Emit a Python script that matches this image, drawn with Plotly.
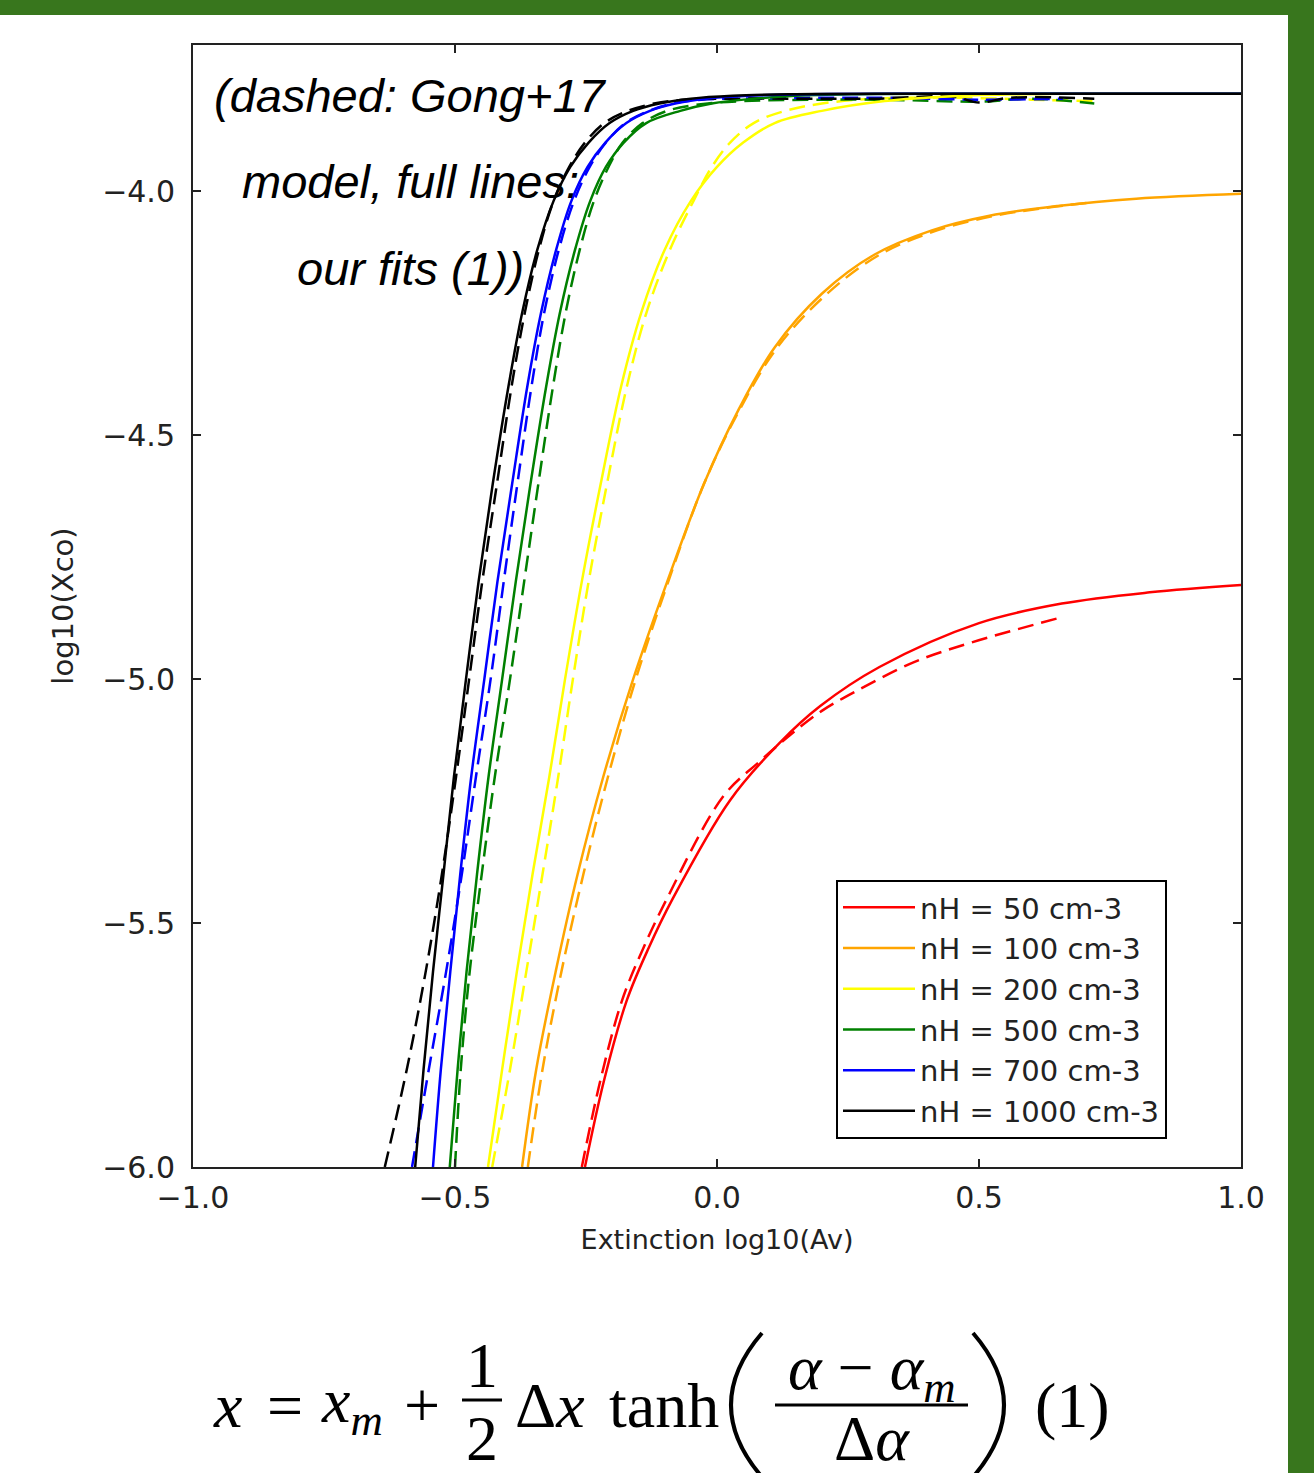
import plotly.graph_objects as go

# ---------------- data ----------------
densities = ["nH = 50 cm-3", "nH = 100 cm-3", "nH = 200 cm-3",
             "nH = 500 cm-3", "nH = 700 cm-3", "nH = 1000 cm-3"]
colors = ["#ff0000", "#ffa500", "#ffff00", "#008000", "#0000ff", "#000000"]

# full lines: our fits (1)
fit_50_x = [-0.252, -0.215, -0.172, -0.13, -0.086, 0.025, 0.12, 0.197, 0.31, 0.50, 0.658, 0.826, 1.00]
fit_50_y = [-6.00, -5.82, -5.658, -5.55, -5.453, -5.248, -5.13, -5.055, -4.975, -4.885, -4.845, -4.822, -4.807]

fit_100_x = [-0.372, -0.345, -0.308, -0.266, -0.217, -0.160, -0.095, -0.025, 0.040, 0.110, 0.200, 0.300, 0.410, 0.520, 0.650, 0.800, 1.000]
fit_100_y = [-6.00, -5.80, -5.60, -5.40, -5.20, -5.00, -4.80, -4.60, -4.45, -4.32, -4.21, -4.13, -4.08, -4.05, -4.03, -4.015, -4.005]

fit_200_x = [-0.437, -0.410, -0.382, -0.352, -0.320, -0.290, -0.258, -0.222, -0.183, -0.145, -0.100, -0.050, 0.00, 0.05, 0.11, 0.20, 0.32, 0.45, 0.65, 1.00]
fit_200_y = [-6.00, -5.80, -5.60, -5.40, -5.20, -5.00, -4.80, -4.60, -4.40, -4.25, -4.12, -4.02, -3.95, -3.90, -3.86, -3.835, -3.815, -3.805, -3.80, -3.80]

fit_500_x = [-0.510, -0.495, -0.478, -0.458, -0.436, -0.410, -0.384, -0.356, -0.326, -0.300, -0.271, -0.242, -0.212, -0.178, -0.135, -0.07, -0.01, 0.07, 0.15, 0.27, 0.42, 1.00]
fit_500_y = [-6.00, -5.80, -5.60, -5.40, -5.20, -5.00, -4.80, -4.60, -4.40, -4.25, -4.12, -4.02, -3.95, -3.90, -3.86, -3.835, -3.82, -3.81, -3.804, -3.801, -3.80, -3.80]

fit_700_x = [-0.542, -0.527, -0.509, -0.490, -0.469, -0.444, -0.419, -0.391, -0.362, -0.336, -0.307, -0.278, -0.247, -0.213, -0.173, -0.128, -0.08, -0.02, 0.06, 0.18, 0.35, 1.00]
fit_700_y = [-6.00, -5.80, -5.60, -5.40, -5.20, -5.00, -4.80, -4.60, -4.40, -4.25, -4.12, -4.02, -3.95, -3.90, -3.86, -3.835, -3.82, -3.81, -3.804, -3.801, -3.80, -3.80]

fit_1000_x = [-0.576, -0.560, -0.542, -0.522, -0.502, -0.479, -0.455, -0.428, -0.398, -0.372, -0.343, -0.312, -0.280, -0.245, -0.205, -0.160, -0.110, -0.05, 0.03, 0.15, 0.30, 1.00]
fit_1000_y = [-6.00, -5.80, -5.60, -5.40, -5.20, -5.00, -4.80, -4.60, -4.40, -4.25, -4.12, -4.02, -3.95, -3.90, -3.86, -3.835, -3.82, -3.81, -3.804, -3.801, -3.80, -3.80]

# dashed: Gong+17 model
gong_50_x = [-0.258, -0.222, -0.181, -0.14, -0.097, 0.012, 0.08, 0.139, 0.20, 0.265, 0.376, 0.485, 0.658]
gong_50_y = [-6.00, -5.82, -5.658, -5.55, -5.453, -5.24, -5.17, -5.115, -5.065, -5.025, -4.965, -4.925, -4.873]

gong_100_x = [-0.361, -0.333, -0.297, -0.255, -0.208, -0.155, -0.093, -0.025, 0.042, 0.115, 0.21, 0.31, 0.42, 0.53, 0.62, 0.72]
gong_100_y = [-6.00, -5.80, -5.60, -5.40, -5.20, -5.00, -4.80, -4.60, -4.45, -4.32, -4.21, -4.13, -4.08, -4.05, -4.035, -4.022]

gong_200_x = [-0.429, -0.395, -0.364, -0.333, -0.303, -0.275, -0.245, -0.210, -0.172, -0.135, -0.090, -0.045, -0.01, 0.025, 0.07, 0.13, 0.20, 0.30, 0.45, 0.60, 0.72]
gong_200_y = [-6.00, -5.80, -5.60, -5.40, -5.20, -5.00, -4.80, -4.60, -4.40, -4.25, -4.12, -4.02, -3.95, -3.90, -3.86, -3.835, -3.82, -3.81, -3.808, -3.812, -3.815]

gong_500_x = [-0.500, -0.489, -0.472, -0.449, -0.424, -0.395, -0.368, -0.341, -0.313, -0.289, -0.262, -0.235, -0.207, -0.18, -0.142, -0.095, -0.035, 0.05, 0.30, 0.50, 0.60, 0.72]
gong_500_y = [-6.00, -5.80, -5.60, -5.40, -5.20, -5.00, -4.80, -4.60, -4.40, -4.25, -4.12, -4.02, -3.95, -3.90, -3.86, -3.835, -3.822, -3.815, -3.812, -3.816, -3.81, -3.82]

gong_700_x = [-0.582, -0.550, -0.517, -0.487, -0.460, -0.432, -0.407, -0.381, -0.354, -0.330, -0.302, -0.273, -0.243, -0.212, -0.175, -0.13, -0.085, -0.03, 0.05, 0.30, 0.50, 0.66]
gong_700_y = [-6.00, -5.80, -5.60, -5.40, -5.20, -5.00, -4.80, -4.60, -4.40, -4.25, -4.12, -4.02, -3.95, -3.90, -3.86, -3.835, -3.82, -3.812, -3.81, -3.808, -3.812, -3.81]

gong_1000_x = [-0.634, -0.592, -0.556, -0.525, -0.498, -0.473, -0.448, -0.420, -0.392, -0.367, -0.340, -0.312, -0.282, -0.252, -0.215, -0.17, -0.12, -0.06, 0.05, 0.30, 0.45, 0.50, 0.56, 0.72]
gong_1000_y = [-6.00, -5.80, -5.60, -5.40, -5.20, -5.00, -4.80, -4.60, -4.40, -4.25, -4.12, -4.02, -3.95, -3.90, -3.86, -3.835, -3.82, -3.812, -3.81, -3.81, -3.806, -3.818, -3.808, -3.81]

fits = [(fit_50_x, fit_50_y), (fit_100_x, fit_100_y), (fit_200_x, fit_200_y),
        (fit_500_x, fit_500_y), (fit_700_x, fit_700_y), (fit_1000_x, fit_1000_y)]
gongs = [(gong_50_x, gong_50_y), (gong_100_x, gong_100_y), (gong_200_x, gong_200_y),
         (gong_500_x, gong_500_y), (gong_700_x, gong_700_y), (gong_1000_x, gong_1000_y)]

x_ticks = [-1.0, -0.5, 0.0, 0.5, 1.0]
y_ticks = [-6.0, -5.5, -5.0, -4.5, -4.0]
x_range = [-1.0, 1.0]
y_range = [-6.0, -3.70]

# ---------------- figure ----------------
W, H = 1314, 1473
L, R, T, B = 193, 1241, 45, 1167  # plot area in pixels


def px(xp):
    return (xp - L) / (R - L)


def py(yp):
    return (B - yp) / (B - T)


fig = go.Figure()

for (gx, gy), c in zip(gongs, colors):
    fig.add_trace(go.Scatter(x=gx, y=gy, mode="lines", showlegend=False,
                             line=dict(color=c, width=2.5, dash="16px,8px",
                                       shape="spline", smoothing=1.0)))

for (fx, fy), c, name in zip(fits, colors, densities):
    fig.add_trace(go.Scatter(x=fx, y=fy, mode="lines", name=name,
                             line=dict(color=c, width=2.5, shape="spline", smoothing=1.0)))

axis_common = dict(showline=True, linecolor="#222", linewidth=2, mirror="ticks",
                   ticks="inside", ticklen=8, tickwidth=2, tickcolor="#222",
                   showgrid=False, zeroline=False, tickformat=".1f",
                   tickfont=dict(family="DejaVu Sans", size=30, color="#222"))

fig.update_xaxes(range=x_range, tickvals=x_ticks, ticklabelstandoff=3,
                 title=dict(text="Extinction log10(Av)", standoff=16,
                            font=dict(family="DejaVu Sans", size=27, color="#222")),
                 **axis_common)
fig.update_yaxes(range=y_range, tickvals=y_ticks, ticklabelstandoff=10,
                 title=dict(text="log10(Xco)", standoff=20,
                            font=dict(family="DejaVu Sans", size=29, color="#222")),
                 **axis_common)

annotations = []
# overlay note
note_lines = ["(dashed: Gong+17", "model, full lines:", "our fits (1))"]
note_y = [95, 182, 268]
for t, yy in zip(note_lines, note_y):
    annotations.append(dict(text="<i>" + t + "</i>", xref="paper", yref="paper",
                            x=px(410), y=py(yy), xanchor="center", yanchor="middle",
                            showarrow=False,
                            font=dict(family="Liberation Sans", size=47, color="black")))

# equation (1)
eq_font = dict(family="Liberation Serif", size=64, color="black")
eq_parts = [
    ("<i>x</i>", 227, 1405, None),
    ("=", 285, 1405, None),
    ("<i>x<sub>m</sub></i>", 352, 1405, None),
    ("+", 422, 1405, None),
    ("1", 482, 1365, None),
    ("2", 482, 1438, 66),
    ("Δ<i>x</i>", 550, 1405, None),
    ("tanh", 664, 1405, None),
    ("<i>α</i> − <i>α<sub>m</sub></i>", 872, 1372, None),
    ("Δ<i>α</i>", 872, 1438, 66),
    ("(1)", 1072, 1405, None),
]
for t, xx, yy, hh in eq_parts:
    a = dict(text=t, xref="paper", yref="paper", x=px(xx), y=py(yy),
             xanchor="center", yanchor="middle", showarrow=False, font=eq_font)
    if hh is not None:
        a["height"] = hh
        a["valign"] = "middle"
    annotations.append(a)

shapes = [
    # green frame
    dict(type="rect", xref="paper", yref="paper", x0=px(-5), x1=px(W + 5),
         y0=py(15), y1=py(-5), fillcolor="#38761d", line=dict(width=0), layer="above"),
    dict(type="rect", xref="paper", yref="paper", x0=px(1288), x1=px(W + 5),
         y0=py(H + 5), y1=py(-5), fillcolor="#38761d", line=dict(width=0), layer="above"),
    # fraction bars
    dict(type="line", xref="paper", yref="paper", x0=px(462), x1=px(502),
         y0=py(1400), y1=py(1400), line=dict(color="black", width=3)),
    dict(type="line", xref="paper", yref="paper", x0=px(775), x1=px(968),
         y0=py(1405), y1=py(1405), line=dict(color="black", width=3)),
    # big parentheses
    dict(type="path", xref="paper", yref="paper",
         path=f"M {px(762)},{py(1333)} Q {px(700)},{py(1405)} {px(762)},{py(1477)}",
         line=dict(color="black", width=4)),
    dict(type="path", xref="paper", yref="paper",
         path=f"M {px(973)},{py(1333)} Q {px(1035)},{py(1405)} {px(973)},{py(1477)}",
         line=dict(color="black", width=4)),
]

fig.update_layout(
    width=W, height=H, autosize=False,
    margin=dict(l=L, r=W - R, t=T, b=H - B, pad=0),
    paper_bgcolor="white", plot_bgcolor="white",
    showlegend=True,
    legend=dict(x=px(836), y=py(880), xanchor="left", yanchor="top",
                bgcolor="white", bordercolor="black", borderwidth=2,
                font=dict(family="DejaVu Sans", size=29, color="#222"),
                tracegroupgap=0, itemwidth=72),
    annotations=annotations,
    shapes=shapes,
)

fig.write_html("out.html")
